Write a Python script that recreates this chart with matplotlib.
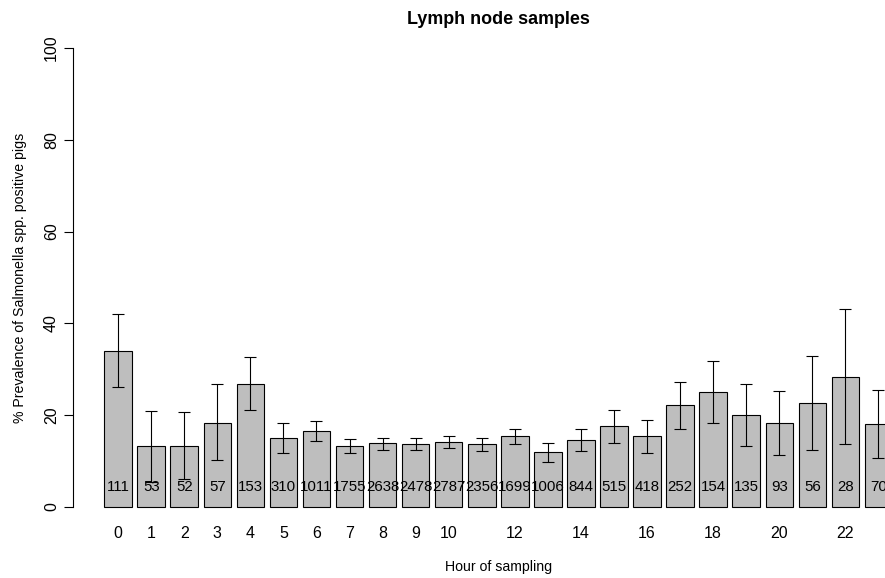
import matplotlib
matplotlib.use('Agg')
import matplotlib.pyplot as plt
import numpy as np

plt.rcParams['font.family'] = ['Liberation Sans', 'DejaVu Sans']

hours = list(range(24))
prevalence = [34.0, 13.2, 13.4, 18.4, 26.9, 15.1, 16.5, 13.4, 13.9, 13.7, 14.1, 13.7,
              15.5, 12.0, 14.7, 17.6, 15.5, 22.2, 25.1, 20.0, 18.4, 22.7, 28.3, 18.1]
ci_low = [26.1, 5.5, 6.1, 10.2, 21.2, 11.8, 14.4, 11.8, 12.4, 12.4, 12.8, 12.2,
          13.7, 9.9, 12.2, 13.9, 11.8, 17.1, 18.2, 13.4, 11.4, 12.4, 13.7, 10.6]
ci_high = [42.0, 21.0, 20.8, 26.7, 32.6, 18.4, 18.7, 14.9, 15.1, 15.1, 15.5, 15.1,
           17.1, 14.0, 17.1, 21.2, 19.0, 27.3, 31.8, 26.7, 25.3, 33.0, 43.1, 25.5]
n_pigs = [111, 53, 52, 57, 153, 310, 1011, 1755, 2638, 2478, 2787, 2356,
          1699, 1006, 844, 515, 418, 252, 154, 135, 93, 56, 28, 70]
shown_hours = [0, 1, 2, 3, 4, 5, 6, 7, 8, 9, 10, 12, 14, 16, 18, 20, 22]

# R barplot layout: width 1, space 0.2
x = 0.7 + 1.2 * np.arange(len(hours))
prev = np.array(prevalence)
lo = prev - np.array(ci_low)
hi = np.array(ci_high) - prev

fig = plt.figure(figsize=(8.85, 5.78), dpi=100)
ax = fig.add_axes([0.0823, 0.091, 0.9615, 0.858])

ax.bar(x, prev, width=1.0, color='#bebebe', edgecolor='black', linewidth=0.8)
ax.errorbar(x, prev, yerr=[lo, hi], fmt='none', ecolor='black',
            elinewidth=0.8, capsize=4.3, capthick=0.8)
for xi, n in zip(x, n_pigs):
    ax.text(xi, 4.4, str(n), ha='center', va='center', fontsize=10.8)

ax.set_xlim(-0.944, 29.944)
ax.set_ylim(-4, 104)
for s in ['top', 'right', 'bottom']:
    ax.spines[s].set_visible(False)
ax.spines['left'].set_bounds(0, 100)
ax.spines['left'].set_linewidth(0.8)

ax.set_yticks([0, 20, 40, 60, 80, 100])
ax.set_yticklabels(['0', '20', '40', '60', '80', '100'], rotation=90, va='center')
ax.tick_params(axis='y', length=6.3, width=0.8, pad=3.6, labelsize=11.5)
ax.set_xticks([x[h] for h in shown_hours])
ax.set_xticklabels([str(h) for h in shown_hours])
ax.tick_params(axis='x', length=0, pad=0.5, labelsize=11.5)

ax.set_title('Lymph node samples', fontsize=12.9, fontweight='bold', pad=3.7)
ax.set_xlabel('Hour of sampling', fontsize=10.2, labelpad=13.5)
ax.set_ylabel('% Prevalence of Salmonella spp. positive pigs', fontsize=10.2, labelpad=12.5)

fig.savefig('out.png', dpi=100)
